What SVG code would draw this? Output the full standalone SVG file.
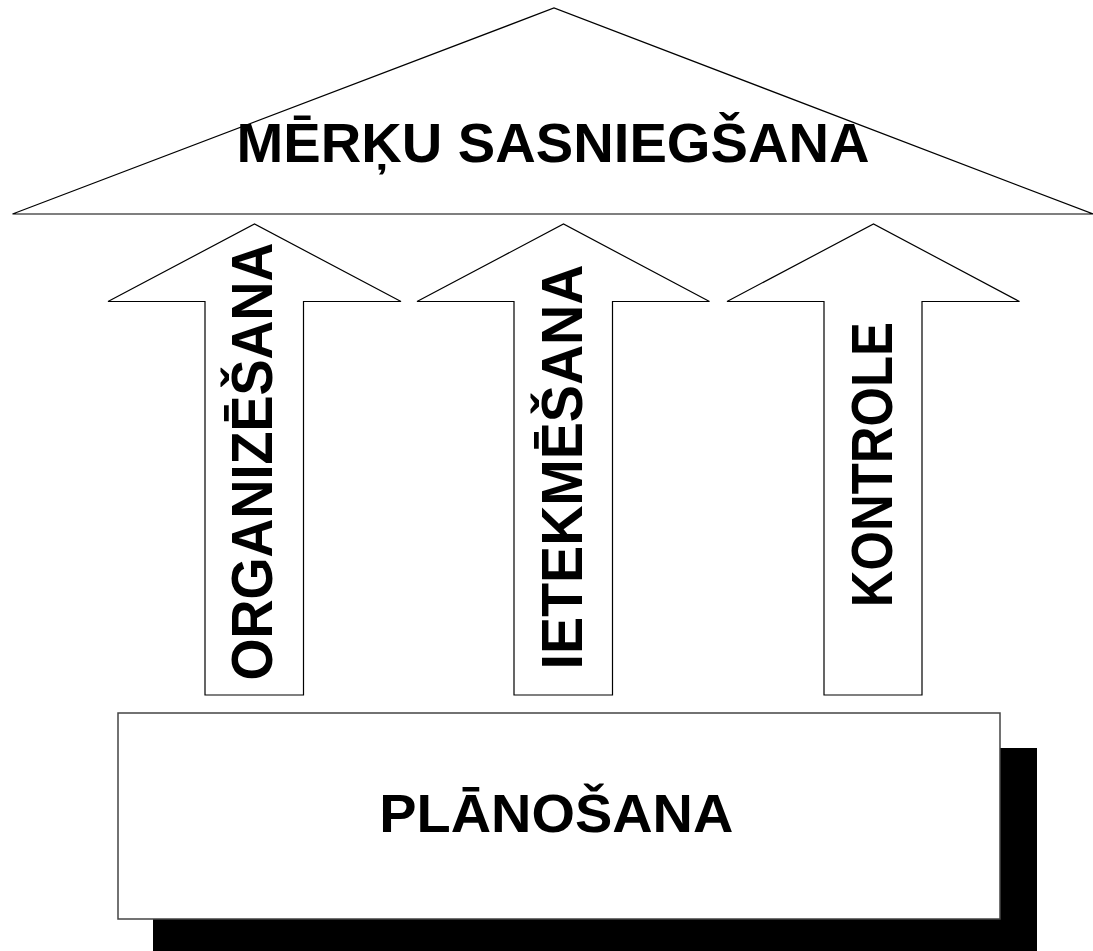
<svg xmlns="http://www.w3.org/2000/svg" width="1093" height="951" viewBox="0 0 1093 951">
<style>
.shape{fill:#fff;stroke:#000;stroke-width:1.2}
.lbl{font-family:"Liberation Sans",Arial,sans-serif;font-weight:bold;fill:#000;text-anchor:middle}
</style>
<rect width="1093" height="951" fill="#fff"/>
<g id="roof">
<polygon class="shape" points="12.5,214 554,8 1093,214"/>
<text class="lbl" x="553" y="162" font-size="55" textLength="633" lengthAdjust="spacingAndGlyphs">MĒRĶU SASNIEGŠANA</text>
</g>
<g id="connectors">
<g id="arrow-organizesana">
<polygon class="shape" points="205,695 205,301.5 108,301.5 254.5,224 401,301.5 303.5,301.5 303.5,695"/>
<text class="lbl" transform="translate(272,461.5) rotate(-90)" font-size="57" textLength="438" lengthAdjust="spacingAndGlyphs">ORGANIZĒŠANA</text>
</g>
<g id="arrow-ietekmesana">
<polygon class="shape" points="514,695 514,301.5 417,301.5 563.5,224 709.5,301.5 612.5,301.5 612.5,695"/>
<text class="lbl" transform="translate(581.5,467) rotate(-90)" font-size="57" textLength="405" lengthAdjust="spacingAndGlyphs">IETEKMĒŠANA</text>
</g>
<g id="arrow-kontrole">
<polygon class="shape" points="824,695 824,301.5 727,301.5 873.5,224 1019.5,301.5 922,301.5 922,695"/>
<text class="lbl" transform="translate(891.5,464.7) rotate(-90)" font-size="57" textLength="285" lengthAdjust="spacingAndGlyphs">KONTROLE</text>
</g>
</g>
<g id="planosana">
<rect x="153" y="748" width="884" height="206" fill="#000"/>
<rect class="shape" x="118" y="713" width="882" height="206" style="stroke:#444;stroke-width:1.5"/>
<text class="lbl" x="556.3" y="832" font-size="54" textLength="354" lengthAdjust="spacingAndGlyphs">PLĀNOŠANA</text>
</g>
</svg>
